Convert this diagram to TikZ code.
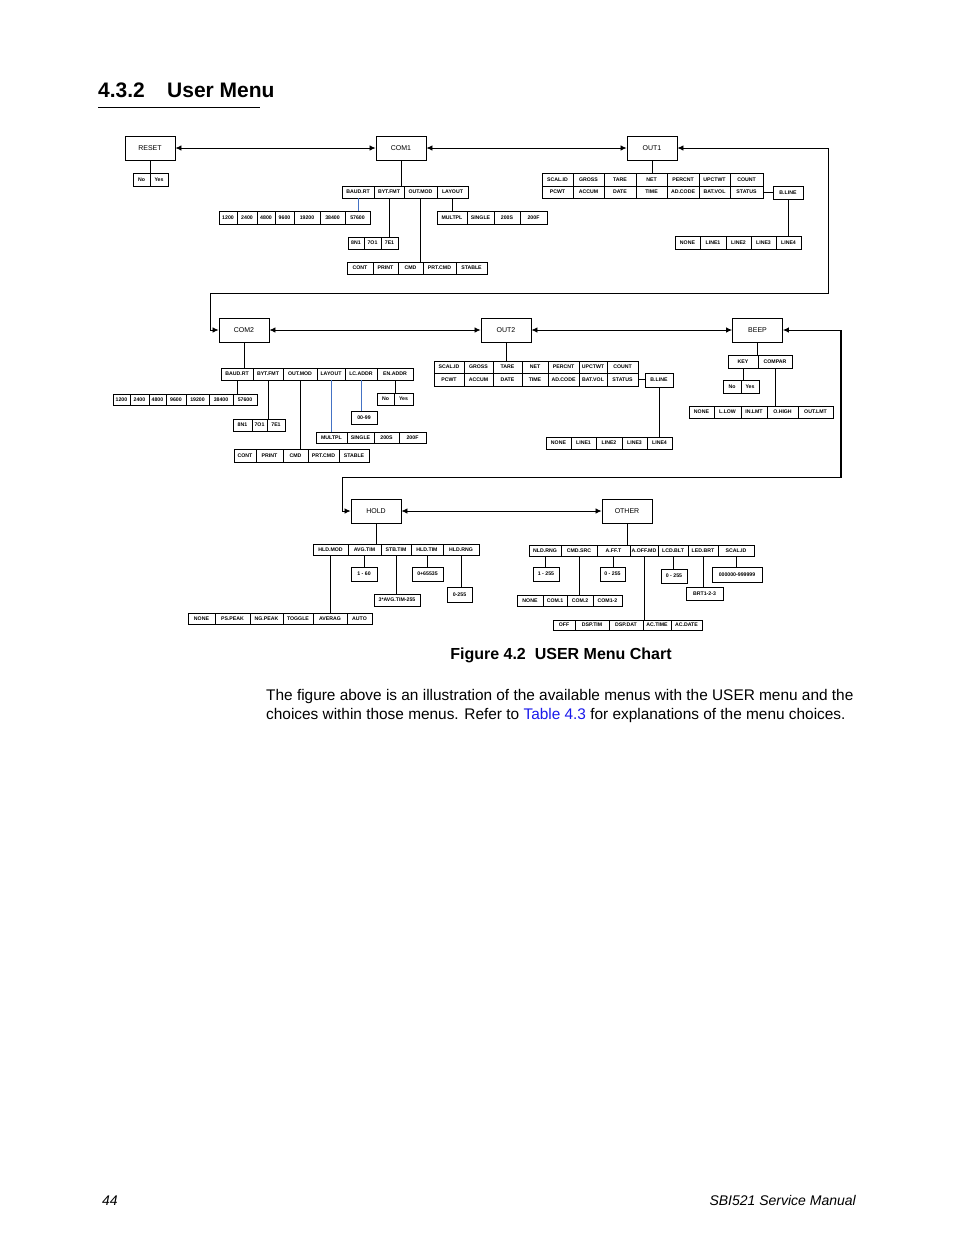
\documentclass[tikz,border=0pt]{standalone}
\usepackage{fontspec}
\setmainfont{Liberation Sans}
\usetikzlibrary{arrows.meta}

\definecolor{linkblue}{RGB}{68,114,196}
\definecolor{reflink}{RGB}{25,25,235}

\tikzset{
  menubox/.style={draw, line width=0.9pt, minimum width=50pt, minimum height=24pt,
    inner sep=0pt, font=\fontsize{7}{8}\selectfont},
  cell/.style={draw, line width=0.8pt, inner sep=0pt,
    font=\bfseries\fontsize{5.2}{6}\selectfont},
  stem/.style={line width=0.8pt},
  bluestem/.style={line width=0.8pt, linkblue},
  biarrow/.style={{Latex[length=6pt,width=5.5pt]}-{Latex[length=6pt,width=5.5pt]}, line width=0.8pt},
}

% one row of boxes: prefix, top, bottom, x0/x1/label list
\newcommand\cellrow[4]{%
  \foreach \xa/\xb/\lab [count=\i] in {#4}
    \node[cell, minimum width=\xb pt-\xa pt, minimum height=#3pt-#2pt]
      (#1\i) at ({(\xa+\xb)/2},{(#2+#3)/2}) {\lab};}

\begin{document}
\begin{tikzpicture}[x=1pt, y=-1pt]
\useasboundingbox (0,0) rectangle (954,1235);

% heading
\node[anchor=base west, inner sep=0pt, font=\bfseries\fontsize{21}{25}\selectfont] (secnum) at (98,97) {4.3.2};
\node[anchor=base west, inner sep=0pt, font=\bfseries\fontsize{21}{25}\selectfont] (sectitle) at (167,97) {User Menu};
\draw[line width=0.8pt] (98,107) -- (260,107);

% main menus
\node[menubox] (reset) at (150,148) {RESET};
\node[menubox] (com1) at (401,148) {COM1};
\node[menubox] (out1) at (652,148) {OUT1};
\node[menubox] (com2) at (244,330) {COM2};
\node[menubox] (out2) at (506,330) {OUT2};
\node[menubox] (beep) at (757.5,330) {BEEP};
\node[menubox] (hold) at (376,511) {HOLD};
\node[menubox] (other) at (627,511) {OTHER};

\coordinate (loopA) at (828,293);
\coordinate (loopB) at (210,293);
\coordinate (loopC) at (841,477);
\coordinate (loopD) at (342,477);

\draw[biarrow] (reset.east) -- (com1.west);
\draw[biarrow] (com1.east) -- (out1.west);
\draw[biarrow] (out1.east) -| (loopA) -- (loopB) |- (com2.west);
\draw[biarrow] (com2.east) -- (out2.west);
\draw[biarrow] (out2.east) -- (beep.west);
\draw[biarrow] (beep.east) -| (loopC) -- (loopD) |- (hold.west);
\draw[line width=1.8pt] (beep.east -| loopC) -- (loopC);
\draw[biarrow] (hold.east) -- (other.west);

% RESET
\cellrow{rs}{173}{186}{133/150/No, 150/168/Yes}
\draw[stem] (reset.south) -- (reset.south |- rs1.north);

% COM1
\cellrow{c1}{186}{198}{342/374/BAUD.RT, 374/404/BYT.FMT, 404/437/OUT.MOD, 437/468/LAYOUT}
\cellrow{c1b}{211}{224}{219/237/1200, 237/257/2400, 257/275/4800, 275/294/9600, 294/320/19200, 320/345/38400, 345/370/57600}
\cellrow{c1f}{237}{249}{348/364/8N1, 364/381/7O1, 381/398/7E1}
\cellrow{c1m}{262}{274}{347/373/CONT, 373/398/PRINT, 398/423/CMD, 423/456/PRT.CMD, 456/487/STABLE}
\cellrow{c1l}{211}{224}{437/467/MULTPL, 467/494/SINGLE, 494/520/200S, 520/547/200F}
\draw[stem] (com1.south) -- (com1.south |- c11.north);
\draw[bluestem] (c11.south) -- (c11.south |- c1b1.north);
\draw[stem] (c12.south) -- (c12.south |- c1f1.north);
\draw[stem] (c13.south) -- (c13.south |- c1m1.north);
\draw[stem] (c14.south) -- (c14.south |- c1l1.north);

% OUT1
\cellrow{o1a}{173}{186}{542/573/SCAL.ID, 573/604/GROSS, 604/636/TARE, 636/667/NET, 667/699/PERCNT, 699/730/UPCTWT, 730/763/COUNT}
\cellrow{o1b}{186}{198}{542/573/PCWT, 573/604/ACCUM, 604/636/DATE, 636/667/TIME, 667/699/AD.CODE, 699/730/BAT.VOL, 730/763/STATUS}
\cellrow{o1bl}{186}{199}{773/803/B.LINE}
\cellrow{o1n}{236}{249}{675/700/NONE, 700/726/LINE1, 726/751/LINE2, 751/776/LINE3, 776/801/LINE4}
\draw[stem] (out1.south) -- (out1.south |- o1a1.north);
\draw[stem] (o1b7.east) -- (o1b7.east -| o1bl1.west);
\draw[stem] (o1bl1.south) -- (o1bl1.south |- o1n1.north);

% COM2
\cellrow{c2}{368}{380}{221/253/BAUD.RT, 253/283/BYT.FMT, 283/317/OUT.MOD, 317/345/LAYOUT, 345/377/LC.ADDR, 377/413/EN.ADDR}
\cellrow{c2b}{394}{405}{113/130/1200, 130/149/2400, 149/166/4800, 166/186/9600, 186/209/19200, 209/233/38400, 233/257/57600}
\cellrow{c2f}{419}{431}{233/252/8N1, 252/267/7O1, 267/285/7E1}
\cellrow{c2m}{449}{462}{234/256/CONT, 256/283/PRINT, 283/308/CMD, 308/339/PRT.CMD, 339/369/STABLE}
\cellrow{c2l}{432}{443}{316/347/MULTPL, 347/374/SINGLE, 374/399/200S, 399/426/200F}
\cellrow{c2a}{411}{424}{351/377/00-99}
\cellrow{c2e}{393}{405}{377/394/No, 394/413/Yes}
\draw[stem] (com2.south) -- (com2.south |- c21.north);
\draw[stem] (c21.south) -- (c21.south |- c2b1.north);
\draw[stem] (c22.south) -- (c22.south |- c2f1.north);
\draw[stem] (c23.south) -- (c23.south |- c2m1.north);
\draw[bluestem] (c24.south) -- (c24.south |- c2l1.north);
\draw[bluestem] (c25.south) -- (c25.south |- c2a1.north);
\draw[stem] (c26.south) -- (c26.south |- c2e1.north);

% OUT2
\cellrow{o2a}{361}{373}{434/464/SCAL.ID, 464/493/GROSS, 493/522/TARE, 522/548/NET, 548/579/PERCNT, 579/607/UPCTWT, 607/638/COUNT}
\cellrow{o2b}{373}{386}{434/464/PCWT, 464/493/ACCUM, 493/522/DATE, 522/548/TIME, 548/579/AD.CODE, 579/607/BAT.VOL, 607/638/STATUS}
\cellrow{o2bl}{373}{387}{645/673/B.LINE}
\cellrow{o2n}{437}{449}{546/571/NONE, 571/596/LINE1, 596/622/LINE2, 622/647/LINE3, 647/672/LINE4}
\draw[stem] (out2.south) -- (out2.south |- o2a1.north);
\draw[stem] (o2b7.east) -- (o2b7.east -| o2bl1.west);
\draw[stem] (o2bl1.south) -- (o2bl1.south |- o2n1.north);

% BEEP
\cellrow{bp}{355}{368}{728/758/KEY, 758/792/COMPAR}
\cellrow{bk}{380}{393}{723/741/No, 741/759/Yes}
\cellrow{bc}{406}{418}{689/714/NONE, 714/741/L.LOW, 741/767/IN.LMT, 767/798/O.HIGH, 798/833/OUT.LMT}
\draw[stem] (beep.south) -- (beep.south |- bp1.north);
\draw[stem] (bp1.south) -- (bp1.south |- bk1.north);
\draw[stem] (bp2.south) -- (bp2.south |- bc1.north);

% HOLD
\cellrow{hd}{544}{555}{313/348/HLD.MOD, 348/381/AVG.TIM, 381/411/STB.TIM, 411/443/HLD.TIM, 443/479/HLD.RNG}
\cellrow{hm}{613}{624}{188/215/NONE, 215/250/PS.PEAK, 250/283/NG.PEAK, 283/313/TOGGLE, 313/347/AVERAG, 347/372/AUTO}
\cellrow{ha}{567}{581}{351/377/1 - 60}
\cellrow{hs}{594}{606}{374/420/3*AVG.TIM-255}
\cellrow{ht}{567}{581}{412/443/0+65535}
\cellrow{hr}{587}{602}{447/472/0-255}
\draw[stem] (hold.south) -- (hold.south |- hd1.north);
\draw[stem] (hd1.south) -- (hd1.south |- hm1.north);
\draw[stem] (hd2.south) -- (hd2.south |- ha1.north);
\draw[stem] (hd3.south) -- (hd3.south |- hs1.north);
\draw[stem] (hd4.south) -- (hd4.south |- ht1.north);
\draw[stem] (hd5.south) -- (hd5.south |- hr1.north);

% OTHER
\cellrow{ot}{545}{556}{529/561/NLD.RNG, 561/597/CMD.SRC, 597/630/A.FF.T, 630/658/A.OFF.MD, 658/688/LCD.BLT, 688/718/LED.BRT, 718/754/SCAL.ID}
\cellrow{on}{567}{581}{533/559/1 - 255}
\cellrow{oc}{595}{606}{517/543/NONE, 543/567/COM.1, 567/593/COM.2, 593/622/COM1-2}
\cellrow{of}{567}{581}{600/625/0 - 255}
\cellrow{oa}{620}{630}{553/575/OFF, 575/609/DSP.TIM, 609/643/DSP.DAT, 643/671/AC.TIME, 671/702/AC.DATE}
\cellrow{ol}{569}{583}{661/687/0 - 255}
\cellrow{ob}{587}{600}{686/723/BRT1-2-3}
\cellrow{os}{567}{582}{712/762/000000-999999}
\draw[stem] (other.south) -- (other.south |- ot1.north);
\draw[stem] (ot1.south) -- (ot1.south |- on1.north);
\draw[stem] (ot2.south) -- (ot2.south |- oc1.north);
\draw[stem] (ot3.south) -- (ot3.south |- of1.north);
\draw[stem] (ot4.south) -- (ot4.south |- oa1.north);
\draw[stem] (ot5.south) -- (ot5.south |- ol1.north);
\draw[stem] (ot6.south) -- (ot6.south |- ob1.north);
\draw[stem] (ot7.south) -- (ot7.south |- os1.north);

% caption and text
\node[anchor=base, inner sep=0pt, font=\bfseries\fontsize{16}{19}\selectfont] (caption) at (561,659) {Figure 4.2\ \ USER Menu Chart};
\node[anchor=base west, inner sep=0pt, font=\fontsize{15.4}{19}\selectfont] (para1) at (266,700)
  {The figure above is an illustration of the available menus with the USER menu and the};
\node[anchor=base west, inner sep=0pt, font=\fontsize{15.4}{19}\selectfont] (para2) at (266,719)
  {choices within those menus. Refer to \textcolor{reflink}{Table 4.3} for explanations of the menu choices.};

% footer
\node[anchor=base west, inner sep=0pt, font=\itshape\fontsize{14}{17}\selectfont] (pagenum) at (102,1205) {44};
\node[anchor=base east, inner sep=0pt, font=\itshape\fontsize{14}{17}\selectfont] (manual) at (856,1205) {SBI521 Service Manual};
\end{tikzpicture}
\end{document}
